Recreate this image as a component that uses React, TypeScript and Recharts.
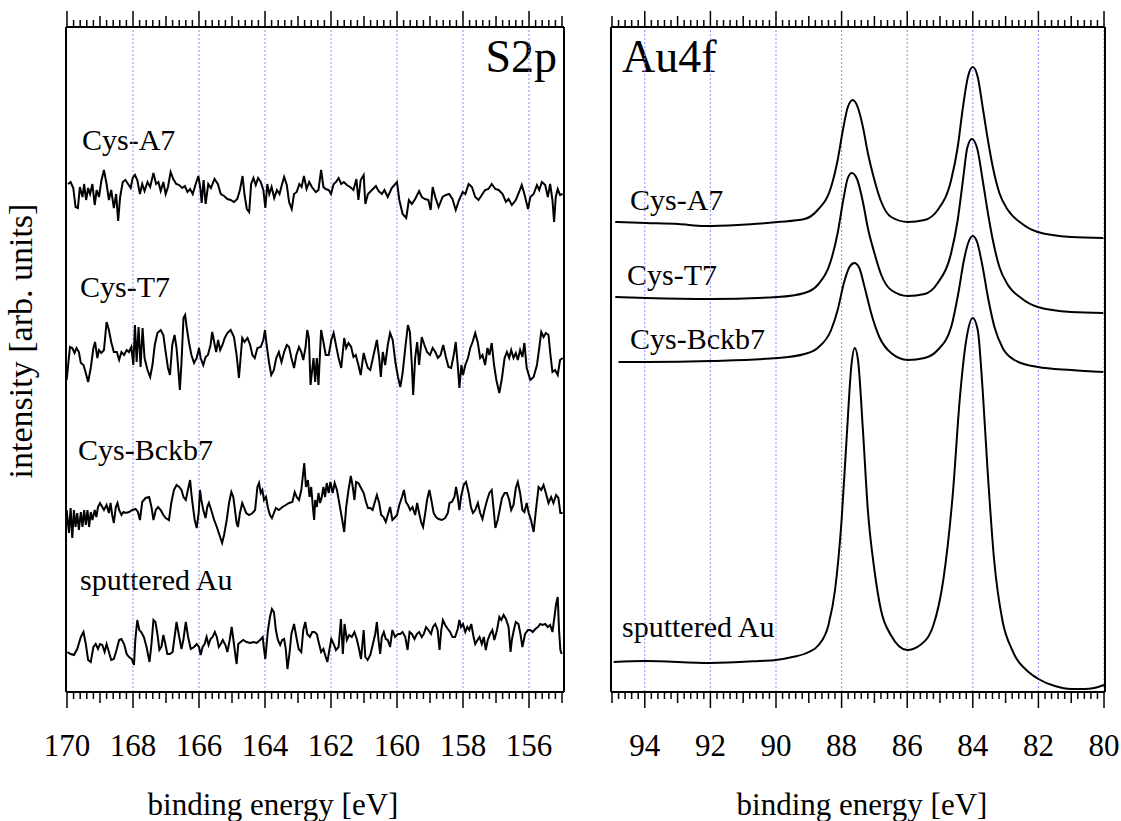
import { LineChart, Line, XAxis, YAxis, ReferenceLine } from "recharts";

const FONT = "'Liberation Serif', Tinos, 'Times New Roman', 'DejaVu Serif', serif";

// ---- S2p panel: binding energy [eV], deviation from each trace's offset ----
const s2pLabels = ["Cys-A7", "Cys-T7", "Cys-Bckb7", "sputtered Au"];
const s2pOffsets = [505, 337, 182, 50];

const s2pCysA7: [number, number][] = [
  [169.97, 3], [169.89, 5], [169.81, -1], [169.74, -20], [169.67, -21], [169.61, 0], [169.53, -10], [169.48, 3],
  [169.42, -13], [169.36, -1], [169.3, -7], [169.23, 3], [169.16, -18], [169.1, -3], [169.03, -10], [168.96, 6],
  [168.88, 17], [168.8, 3], [168.73, -13], [168.66, -3], [168.58, -21], [168.51, -7], [168.45, -34], [168.39, -10],
  [168.31, 5], [168.23, 7], [168.15, 3], [168.07, -1], [168.01, 9], [167.94, 12], [167.87, 7], [167.79, -7],
  [167.72, 3], [167.65, -4], [167.56, 5], [167.48, 0], [167.38, 14], [167.3, 3], [167.23, 5], [167.16, -4],
  [167.08, 5], [167.01, -7], [166.94, 0], [166.86, 15], [166.78, 8], [166.69, 3], [166.6, 2], [166.51, -1],
  [166.43, 1], [166.35, -5], [166.27, -2], [166.19, -7], [166.1, 3], [166.02, 11], [165.96, -1], [165.92, -16],
  [165.86, 7], [165.8, -17], [165.72, 3], [165.64, -1], [165.53, 8], [165.43, 3], [165.34, -7], [165.24, -9],
  [165.14, -12], [165.04, -13], [164.94, -15], [164.84, -12], [164.76, -3], [164.68, 11], [164.62, -8], [164.55, -22],
  [164.48, -25], [164.42, 3], [164.35, 9], [164.28, 2], [164.21, 9], [164.13, 5], [164.05, -3], [163.99, -21],
  [163.93, 3], [163.87, -7], [163.8, 0], [163.72, -11], [163.64, -3], [163.56, -7], [163.49, 2], [163.42, 10],
  [163.34, 2], [163.27, -15], [163.19, -22], [163.12, -7], [163.04, -5], [162.96, 3], [162.89, 0], [162.82, 11],
  [162.74, -2], [162.66, 5], [162.58, 0], [162.46, -5], [162.38, -3], [162.3, 17], [162.23, 0], [162.16, -2],
  [162.07, -3], [162.0, -7], [161.92, 3], [161.85, 5], [161.77, 9], [161.69, 3], [161.61, 5], [161.52, 2],
  [161.42, 0], [161.32, -3], [161.23, 8], [161.17, -13], [161.1, 7], [161.01, 12], [160.96, -17], [160.88, -7],
  [160.76, -3], [160.64, 1], [160.56, -4], [160.46, -7], [160.38, -3], [160.28, -10], [160.16, -1], [160.0, 5],
  [159.93, -13], [159.83, -27], [159.72, -31], [159.64, -13], [159.55, -17], [159.45, -12], [159.33, -4], [159.25, -10],
  [159.15, -12], [159.05, -13], [158.98, -23], [158.92, 0], [158.84, -10], [158.74, -20], [158.62, -10], [158.52, -8],
  [158.42, -7], [158.32, -12], [158.22, -23], [158.12, -13], [158.01, -5], [157.93, -7], [157.83, 3], [157.73, 0],
  [157.63, -10], [157.53, -13], [157.43, -8], [157.33, -3], [157.23, -2], [157.13, 3], [157.02, -2], [156.92, -3],
  [156.8, -7], [156.7, -15], [156.62, -12], [156.52, -18], [156.4, -13], [156.3, -5], [156.22, 2], [156.14, -7],
  [156.03, -22], [155.96, -10], [155.86, -7], [155.76, 2], [155.69, -3], [155.61, 5], [155.51, 2], [155.43, -10],
  [155.36, 3], [155.29, -13], [155.24, -35], [155.19, -10], [155.13, -2], [155.06, -8], [154.98, -7],
];

const s2pCysT7: [number, number][] = [
  [170.01, -25], [169.91, 8], [169.84, 7], [169.77, 2], [169.71, 7], [169.64, 3], [169.58, -8], [169.5, -10],
  [169.43, -18], [169.36, -27], [169.28, -13], [169.2, 7], [169.15, 13], [169.08, -3], [169.03, 5], [168.96, 2],
  [168.88, 5], [168.8, 33], [168.73, 25], [168.66, 13], [168.58, 3], [168.49, 3], [168.42, -5], [168.35, 3],
  [168.27, 0], [168.19, 5], [168.12, 3], [168.05, 8], [167.99, -10], [167.94, 30], [167.89, -7], [167.83, 28],
  [167.77, -12], [167.71, 27], [167.65, -3], [167.56, -15], [167.48, -22], [167.41, -10], [167.34, 10], [167.26, 22],
  [167.16, 25], [167.08, 20], [167.01, 3], [166.94, -13], [166.88, -20], [166.81, 10], [166.74, 20], [166.68, 7],
  [166.62, -17], [166.58, -35], [166.53, -7], [166.47, 37], [166.42, 40], [166.37, 27], [166.3, 12], [166.23, 0],
  [166.15, -8], [166.07, -3], [166.0, 7], [165.95, -3], [165.87, -10], [165.8, -2], [165.73, 0], [165.65, 10],
  [165.6, 23], [165.54, 13], [165.48, 3], [165.42, 15], [165.36, 5], [165.29, 10], [165.22, 17], [165.14, 22],
  [165.04, 25], [164.94, 18], [164.86, 0], [164.79, -23], [164.74, -3], [164.69, 17], [164.62, 13], [164.53, 17],
  [164.45, 10], [164.38, 0], [164.31, -3], [164.23, 7], [164.13, 8], [164.05, 15], [164.0, 25], [163.95, 10],
  [163.88, -7], [163.81, -20], [163.73, -15], [163.66, -3], [163.58, 3], [163.5, -7], [163.42, 3], [163.34, 10],
  [163.27, 8], [163.2, -3], [163.12, -13], [163.05, 0], [162.97, 8], [162.9, 3], [162.84, -5], [162.77, 8],
  [162.72, 25], [162.67, 17], [162.62, -30], [162.53, -3], [162.48, -27], [162.43, -3], [162.38, -30], [162.3, 25],
  [162.23, 13], [162.16, 0], [162.07, 0], [161.99, 15], [161.92, 22], [161.85, 10], [161.77, -3], [161.69, -13],
  [161.6, 17], [161.54, 7], [161.47, 12], [161.39, 8], [161.32, -2], [161.25, 0], [161.17, -10], [161.1, -20],
  [161.01, 2], [160.94, -7], [160.88, -13], [160.81, -15], [160.73, -3], [160.61, 15], [160.54, -3], [160.49, -22],
  [160.43, 3], [160.36, -10], [160.28, 10], [160.21, 22], [160.13, 15], [160.05, -7], [159.97, -22], [159.9, -32],
  [159.83, -18], [159.75, 7], [159.67, 30], [159.61, 23], [159.55, -10], [159.51, -40], [159.45, -3], [159.39, 13],
  [159.33, -10], [159.25, 18], [159.17, 10], [159.09, 3], [159.0, 0], [158.92, 7], [158.84, 3], [158.76, -3],
  [158.68, 0], [158.6, 10], [158.52, -2], [158.44, -12], [158.36, -13], [158.28, 0], [158.22, 13], [158.16, -10],
  [158.11, -33], [158.05, -10], [158.0, -20], [157.93, -10], [157.85, -3], [157.78, 7], [157.71, 13], [157.63, 22],
  [157.55, 12], [157.48, -3], [157.41, 0], [157.33, -10], [157.26, 7], [157.2, 0], [157.13, 12], [157.06, -10],
  [156.99, -25], [156.9, -38], [156.82, -23], [156.74, -3], [156.67, 3], [156.6, -3], [156.54, 5], [156.47, -3],
  [156.4, 2], [156.34, -5], [156.27, 5], [156.2, -2], [156.14, 12], [156.07, -13], [155.96, -25], [155.86, -22],
  [155.76, -10], [155.69, 7], [155.63, 23], [155.56, 18], [155.49, 22], [155.41, 20], [155.35, 0], [155.29, -17],
  [155.21, -15], [155.13, -20], [155.06, -5], [154.98, -3],
];

const s2pCysBckb7: [number, number][] = [
  [170.01, 0], [169.94, -23], [169.89, 2], [169.84, -28], [169.79, 0], [169.74, -17], [169.69, -3], [169.64, -20],
  [169.58, -2], [169.53, -17], [169.48, 0], [169.43, -15], [169.38, 0], [169.33, -17], [169.28, -2], [169.23, -10],
  [169.16, 0], [169.11, -7], [169.06, 3], [169.0, 7], [168.93, 3], [168.88, 0], [168.8, 5], [168.73, -3],
  [168.68, 7], [168.63, -5], [168.58, -13], [168.52, 3], [168.47, 7], [168.42, 0], [168.35, -5], [168.29, -2],
  [168.22, -3], [168.12, -2], [168.02, 0], [167.92, 1], [167.85, -2], [167.79, -10], [167.72, 8], [167.62, 12],
  [167.51, 13], [167.44, 3], [167.38, -10], [167.31, 0], [167.24, 3], [167.16, 0], [167.08, -5], [167.01, -8],
  [166.91, -10], [166.84, 7], [166.76, 20], [166.68, 25], [166.6, 23], [166.53, 20], [166.47, 13], [166.4, 10],
  [166.35, 18], [166.27, 30], [166.22, 13], [166.17, 0], [166.13, -10], [166.07, -18], [166.01, -3], [165.97, 20],
  [165.93, 10], [165.87, 0], [165.8, -8], [165.75, 3], [165.7, 7], [165.63, 0], [165.54, -10], [165.46, -17],
  [165.38, -25], [165.3, -33], [165.24, -25], [165.16, -10], [165.09, 7], [165.02, 18], [164.96, 13], [164.91, 0],
  [164.86, -13], [164.82, -17], [164.76, -3], [164.69, 7], [164.64, 3], [164.57, -3], [164.48, -5], [164.38, -3],
  [164.3, 0], [164.23, 23], [164.18, 27], [164.13, 17], [164.08, 20], [164.03, 10], [163.97, 13], [163.91, 2],
  [163.85, -5], [163.79, -8], [163.73, -3], [163.67, 2], [163.58, 0], [163.47, 3], [163.37, 5], [163.27, 7],
  [163.17, 8], [163.1, 18], [163.04, 13], [162.97, 10], [162.9, 20], [162.85, 35], [162.81, 47], [162.76, 23],
  [162.7, 30], [162.65, 13], [162.6, 23], [162.55, 3], [162.51, -10], [162.48, 10], [162.43, 3], [162.38, 17],
  [162.33, 7], [162.28, 13], [162.23, 23], [162.18, 13], [162.13, 27], [162.07, 17], [162.02, 28], [161.95, 17],
  [161.89, 27], [161.82, 20], [161.75, 7], [161.67, -8], [161.6, -22], [161.54, 3], [161.47, 20], [161.4, 34],
  [161.34, 23], [161.29, 10], [161.24, 28], [161.17, 27], [161.09, 22], [161.01, 17], [160.94, 8], [160.88, 2],
  [160.81, 2], [160.74, 0], [160.68, 7], [160.61, 15], [160.54, 7], [160.48, -5], [160.41, -7], [160.34, -12],
  [160.28, -5], [160.21, 3], [160.14, -10], [160.08, -8], [160.0, -5], [159.93, 5], [159.85, 13], [159.79, 20],
  [159.73, 8], [159.67, 5], [159.6, 0], [159.53, 3], [159.45, -5], [159.39, 7], [159.33, -3], [159.27, -12],
  [159.21, -17], [159.14, -2], [159.09, 10], [159.02, 20], [158.96, 10], [158.89, -3], [158.82, -7], [158.74, -9],
  [158.64, -10], [158.54, -8], [158.46, -3], [158.41, 7], [158.34, 8], [158.26, 13], [158.21, 23], [158.16, 13],
  [158.11, 0], [158.06, 13], [157.98, 25], [157.91, 28], [157.83, 17], [157.76, 3], [157.7, -3], [157.63, 0],
  [157.55, 7], [157.48, -3], [157.41, -9], [157.35, 0], [157.27, 10], [157.2, 17], [157.13, 20], [157.07, 0],
  [157.02, -18], [156.95, -10], [156.89, 0], [156.82, 12], [156.74, 17], [156.67, 17], [156.6, 10], [156.54, 0],
  [156.47, 5], [156.4, 22], [156.34, 28], [156.27, 17], [156.2, 0], [156.14, -2], [156.07, 7], [156.01, -3],
  [155.94, -10], [155.86, -22], [155.79, 0], [155.71, 23], [155.63, 20], [155.56, 25], [155.49, 17], [155.41, 7],
  [155.33, 13], [155.26, 7], [155.18, 15], [155.11, 12], [155.05, -3], [154.98, -3],
];

const s2pSputteredAu: [number, number][] = [
  [169.99, -10], [169.89, -12], [169.79, -13], [169.69, -7], [169.58, 5], [169.5, 10], [169.43, -2], [169.36, -18],
  [169.28, -20], [169.2, -5], [169.13, -2], [169.06, -7], [169.0, -2], [168.93, -3], [168.86, -10], [168.8, -2],
  [168.73, -10], [168.66, -18], [168.58, -17], [168.49, -7], [168.42, 2], [168.35, 3], [168.27, -2], [168.19, -12],
  [168.12, -15], [168.04, -17], [167.97, -23], [167.93, 2], [167.87, 22], [167.81, 12], [167.75, 10], [167.67, 5],
  [167.59, -5], [167.5, -20], [167.44, -2], [167.38, 22], [167.32, 20], [167.26, 8], [167.2, -8], [167.14, -5],
  [167.08, 7], [167.02, -2], [166.96, -12], [166.88, -12], [166.8, -10], [166.74, 5], [166.68, 20], [166.6, 5],
  [166.53, -7], [166.47, 3], [166.4, 20], [166.33, 5], [166.25, -7], [166.15, -5], [166.07, -2], [166.0, -5],
  [165.95, -13], [165.89, -5], [165.83, -2], [165.77, 5], [165.71, -3], [165.65, 3], [165.59, 5], [165.52, 10],
  [165.46, 5], [165.4, -5], [165.34, -2], [165.28, 2], [165.2, -3], [165.14, -10], [165.07, 2], [165.01, 15],
  [164.96, 3], [164.91, -10], [164.86, -22], [164.81, -2], [164.74, 0], [164.66, 2], [164.56, 0], [164.45, -1],
  [164.35, 0], [164.25, -1], [164.15, 2], [164.07, 5], [164.03, -7], [163.99, -17], [163.95, -2], [163.91, 12],
  [163.85, 25], [163.79, 33], [163.73, 30], [163.67, 12], [163.61, 2], [163.54, -3], [163.48, 2], [163.42, 3],
  [163.37, -7], [163.32, -27], [163.26, -12], [163.2, 8], [163.12, 18], [163.05, 5], [162.98, -7], [162.9, -10],
  [162.84, 12], [162.78, 20], [162.72, 8], [162.64, 5], [162.57, 10], [162.5, 10], [162.43, 8], [162.36, -2],
  [162.3, -10], [162.23, -7], [162.16, -15], [162.11, -20], [162.05, -8], [161.99, 3], [161.92, -2], [161.85, -8],
  [161.77, -5], [161.7, 23], [161.64, -12], [161.59, 18], [161.52, 2], [161.45, 7], [161.37, 5], [161.29, 10],
  [161.22, 3], [161.15, -7], [161.09, -17], [161.01, 12], [160.96, -15], [160.89, -18], [160.81, -13], [160.73, -2],
  [160.66, 8], [160.61, 20], [160.56, 2], [160.51, -12], [160.46, 5], [160.4, 10], [160.34, 3], [160.28, 2],
  [160.21, -5], [160.14, 12], [160.06, 5], [159.97, 8], [159.9, 8], [159.83, 10], [159.75, 5], [159.68, -8],
  [159.62, 10], [159.55, 8], [159.47, 3], [159.4, 8], [159.33, 10], [159.25, 5], [159.19, 8], [159.12, 15],
  [159.05, 12], [158.97, 8], [158.91, 15], [158.84, 18], [158.77, 12], [158.71, -8], [158.66, 12], [158.61, 22],
  [158.54, 17], [158.46, 13], [158.39, 10], [158.32, 5], [158.24, 5], [158.16, 13], [158.11, 22], [158.06, 15],
  [158.0, 18], [157.93, 10], [157.87, 15], [157.81, 12], [157.75, 18], [157.68, 5], [157.63, -2], [157.56, 2],
  [157.5, 5], [157.43, -2], [157.37, 5], [157.31, -8], [157.25, 2], [157.18, 8], [157.11, 12], [157.05, 2],
  [156.97, 12], [156.9, 25], [156.84, 22], [156.77, 27], [156.7, 23], [156.62, 15], [156.56, -10], [156.52, 2],
  [156.46, 12], [156.4, 20], [156.32, 18], [156.26, 8], [156.2, -5], [156.12, 8], [156.03, 12], [155.96, 12],
  [155.89, 10], [155.81, 13], [155.73, 15], [155.66, 18], [155.59, 17], [155.51, 18], [155.43, 15], [155.36, 17],
  [155.29, 10], [155.23, 25], [155.18, 38], [155.13, 45], [155.09, 12], [155.05, -8], [155.01, -12],
];

// ---- Au4f panel: binding energy [eV], stacked intensity ----
const au4fLabels = ["Cys-A7", "Cys-T7", "Cys-Bckb7", "sputtered Au"];

const au4fCysA7: [number, number][] = [
  [94.9, 470], [93.96, 469], [92.97, 468], [92.18, 466], [91.16, 467], [89.95, 470], [89.13, 473], [88.73, 482],
  [88.32, 505], [88.12, 532], [87.96, 562], [87.81, 585], [87.66, 592], [87.51, 585], [87.35, 565], [87.2, 539],
  [87.0, 512], [86.79, 490], [86.49, 475], [85.98, 470], [85.47, 472], [85.07, 482], [84.66, 512], [84.46, 545],
  [84.3, 585], [84.15, 615], [84.0, 625], [83.85, 615], [83.7, 585], [83.54, 552], [83.39, 525], [83.19, 499],
  [82.93, 482], [82.53, 469], [82.02, 460], [81.0, 455], [80.02, 454],
];

const au4fCysT7: [number, number][] = [
  [94.9, 395], [93.96, 394], [91.98, 393], [89.95, 395], [89.13, 399], [88.73, 407], [88.32, 432], [88.12, 459],
  [87.96, 490], [87.81, 514], [87.69, 519], [87.53, 513], [87.35, 490], [87.2, 464], [87.0, 439], [86.79, 417],
  [86.49, 402], [85.98, 396], [85.47, 398], [85.07, 409], [84.66, 439], [84.46, 472], [84.3, 512], [84.17, 544],
  [84.03, 553], [83.87, 544], [83.7, 512], [83.54, 479], [83.39, 452], [83.19, 425], [82.93, 407], [82.53, 394],
  [82.02, 385], [81.0, 380], [80.02, 379],
];

const au4fCysBckb7: [number, number][] = [
  [94.8, 330], [93.96, 330], [91.98, 331], [89.95, 334], [89.13, 338], [88.73, 344], [88.32, 362], [88.12, 382],
  [87.93, 409], [87.76, 425], [87.61, 429], [87.46, 424], [87.3, 405], [87.1, 379], [86.85, 355], [86.49, 339],
  [85.98, 332], [85.47, 334], [85.07, 342], [84.66, 365], [84.44, 399], [84.27, 432], [84.13, 450], [84.0, 456],
  [83.87, 450], [83.7, 425], [83.54, 395], [83.34, 365], [83.09, 344], [82.73, 332], [82.02, 325], [81.0, 322],
  [80.02, 320],
];

const au4fSputteredAu: [number, number][] = [
  [94.95, 30], [94.0, 31], [92.0, 29], [90.5, 31], [90.0, 32], [89.5, 35], [89.0, 40], [88.7, 47],
  [88.4, 67], [88.2, 102], [88.0, 172], [87.85, 252], [87.7, 327], [87.6, 344], [87.5, 332], [87.35, 262],
  [87.2, 182], [87.0, 122], [86.8, 82], [86.5, 57], [86.0, 42], [85.6, 47], [85.2, 67], [84.9, 112],
  [84.6, 202], [84.4, 292], [84.2, 352], [84.0, 374], [83.85, 362], [83.7, 302], [83.55, 222], [83.35, 132],
  [83.1, 72], [82.8, 42], [82.3, 20], [82.0, 13], [81.5, 6], [81.0, 3], [80.6, 3], [80.3, 4], [80.0, 7],
];

// axes
const s2pDomain = [154.94, 170.03];
const au4fDomain = [79.97, 95.03];
const s2pGrid = [168, 166, 164, 162, 160, 158, 156];
const au4fGrid = [94, 92, 90, 88, 86, 84, 82, 80];
const yDomain = [0, 665];

// ticks every 0.2 eV, medium every 1 eV, labelled every 2 eV
function tickValues([lo, hi]: number[]) {
  const out: number[] = [];
  for (let k = Math.ceil(lo * 5); k <= Math.floor(hi * 5); k++) out.push(k / 5);
  return out;
}

function tickLen(v: number) {
  const k = Math.round(v * 5);
  if (k % 10 === 0) return 16;
  if (k % 5 === 0) return 11;
  return 7;
}

const serif = { fontFamily: FONT };

function BottomTick(props: any) {
  const { x, y, payload } = props;
  const v = payload.value;
  const len = tickLen(v);
  return (
    <g>
      <line x1={x} x2={x} y1={y} y2={y + len} stroke="#000" strokeWidth={1.5} />
      {len === 16 && (
        <text x={x} y={y + 64} textAnchor="middle" style={serif} fontSize={31} fill="#000">
          {Math.round(v)}
        </text>
      )}
    </g>
  );
}

function TopTick(props: any) {
  const { x, y, payload } = props;
  const len = tickLen(payload.value);
  return <line x1={x} x2={x} y1={y} y2={y - len} stroke="#000" strokeWidth={1.5} />;
}

const toPoints = (pts: [number, number][], offset = 0) =>
  pts.map(([e, v]) => ({ e, v: v + offset }));

function Txt({ x, y, size, anchor, rotate, children }: any) {
  return (
    <text
      x={x}
      y={y}
      fontSize={size}
      textAnchor={anchor ?? "start"}
      transform={rotate ? `rotate(${rotate} ${x} ${y})` : undefined}
      fill="#000"
      style={serif}
    >
      {children}
    </text>
  );
}

// axes are 1px thick boxes (zero-sized axes are not drawn), margins leave room for them
function Panel({
  width,
  left,
  right,
  domain,
  grid,
  series,
  curve,
  children,
}: {
  width: number;
  left: number;
  right: number;
  domain: number[];
  grid: number[];
  series: { e: number; v: number }[][];
  curve: "linear" | "monotone";
  children?: React.ReactNode;
}) {
  const ticks = tickValues(domain);
  const frame = { stroke: "#000", strokeWidth: 2 };
  return (
    <LineChart
      width={width}
      height={821}
      margin={{ top: 26, right: right - 1, bottom: 128, left: left - 1 }}
      style={serif}
    >
      <XAxis
        xAxisId="b"
        type="number"
        dataKey="e"
        domain={domain}
        reversed
        allowDataOverflow
        ticks={ticks}
        interval={0}
        height={1}
        tickSize={0}
        tickMargin={0}
        tickLine={false}
        axisLine={frame}
        tick={(p: any) => <BottomTick {...p} />}
      />
      <XAxis
        xAxisId="t"
        orientation="top"
        type="number"
        dataKey="e"
        domain={domain}
        reversed
        allowDataOverflow
        ticks={ticks}
        interval={0}
        height={1}
        tickSize={0}
        tickMargin={0}
        tickLine={false}
        axisLine={frame}
        tick={(p: any) => <TopTick {...p} />}
      />
      <YAxis yAxisId="l" type="number" domain={yDomain} allowDataOverflow width={1} tick={false} tickLine={false} axisLine={frame} />
      <YAxis yAxisId="r" orientation="right" type="number" domain={yDomain} allowDataOverflow width={1} tick={false} tickLine={false} axisLine={frame} />
      {grid.map((g) => (
        <ReferenceLine
          key={g}
          x={g}
          xAxisId="b"
          yAxisId="l"
          stroke="#8a8aff"
          strokeWidth={1}
          strokeDasharray="2 2"
        />
      ))}
      {series.map((data, i) => (
        <Line
          key={i}
          data={data}
          xAxisId="b"
          yAxisId="l"
          dataKey="v"
          type={curve}
          stroke="#000"
          strokeWidth={2}
          dot={false}
          activeDot={false}
          isAnimationActive={false}
        />
      ))}
      {children}
    </LineChart>
  );
}

export default function App() {
  const s2pSeries = [s2pCysA7, s2pCysT7, s2pCysBckb7, s2pSputteredAu].map((s, i) =>
    toPoints(s, s2pOffsets[i])
  );
  const au4fSeries = [au4fCysA7, au4fCysT7, au4fCysBckb7, au4fSputteredAu].map((s) => toPoints(s));

  return (
    <div style={{ position: "absolute", left: 0, top: 0, width: 1121, height: 821, background: "#fff", fontFamily: FONT }}>
      <div style={{ position: "absolute", left: 0, top: 0 }}>
        <Panel width={600} left={66} right={36} domain={s2pDomain} grid={s2pGrid} series={s2pSeries} curve="linear">
          <Txt x={557} y={72} size={46} anchor="end">S2p</Txt>
          <Txt x={82} y={150} size={30}>{s2pLabels[0]}</Txt>
          <Txt x={80} y={297} size={30}>{s2pLabels[1]}</Txt>
          <Txt x={78} y={460} size={30}>{s2pLabels[2]}</Txt>
          <Txt x={80} y={590} size={30}>{s2pLabels[3]}</Txt>
          <Txt x={273} y={815} size={31} anchor="middle">binding energy [eV]</Txt>
          <Txt x={32} y={341} size={34} anchor="middle" rotate={-90}>intensity [arb. units]</Txt>
        </Panel>
      </div>
      <div style={{ position: "absolute", left: 560, top: 0 }}>
        <Panel width={561} left={51} right={16} domain={au4fDomain} grid={au4fGrid} series={au4fSeries} curve="monotone">
          <Txt x={62} y={72} size={46}>Au4f</Txt>
          <Txt x={70} y={210} size={30}>{au4fLabels[0]}</Txt>
          <Txt x={67} y={285} size={30}>{au4fLabels[1]}</Txt>
          <Txt x={70} y={349} size={30}>{au4fLabels[2]}</Txt>
          <Txt x={62} y={637} size={30}>{au4fLabels[3]}</Txt>
          <Txt x={302} y={815} size={31} anchor="middle">binding energy [eV]</Txt>
        </Panel>
      </div>
    </div>
  );
}
